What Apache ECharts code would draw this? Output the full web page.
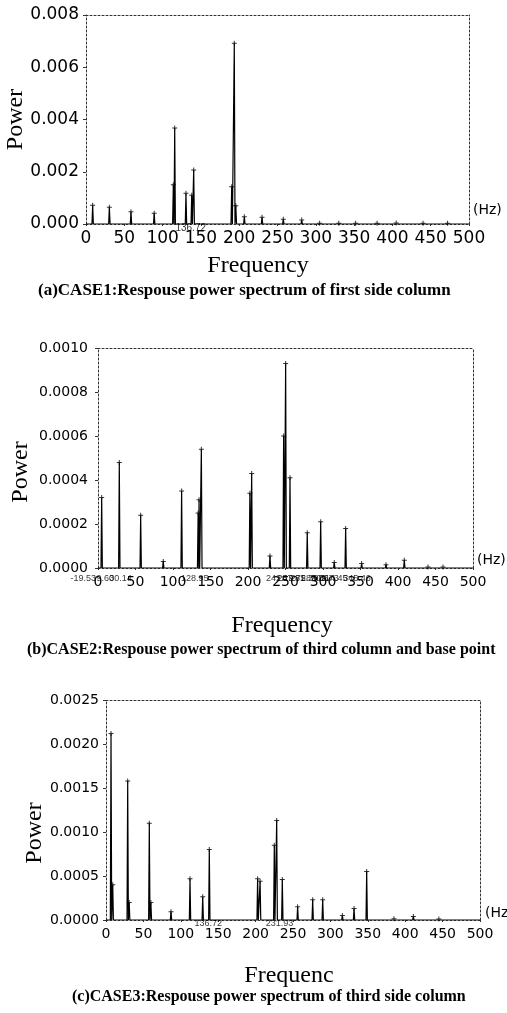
<!DOCTYPE html>
<html>
<head>
<meta charset="utf-8">
<script src="https://cdn.jsdelivr.net/npm/echarts@6/dist/echarts.min.js"></script>
<style>html,body{margin:0;padding:0;background:#fff}#c{width:507px;height:1013px}</style>
</head>
<body>
<div id="c"></div>
<script>
// ---------- DATA ----------
const xTickLabels = ['0','50','100','150','200','250','300','350','400','450','500'];

// Panel (a) CASE1 peaks
const aPeakFreq  = [8.7, 30.5, 58.7, 89, 114, 115.8, 130.5, 138, 140.6, 190.2, 193.6, 195.6, 206.7, 229.8, 257.6, 281.6, 305, 330, 352, 380, 405, 440, 472];
const aPeakPower = [0.00072, 0.00064, 0.00047, 0.00041, 0.0015, 0.00367, 0.00118, 0.0011, 0.00207, 0.00143, 0.00692, 0.0007, 0.00028, 0.00026, 0.00018, 0.00015, 0.00003, 0.00003, 0.00003, 0.00003, 0.00004, 0.00003, 0.00003];
const aNoteFreq = [136.72];
const aNoteText = ['136.72'];

// Panel (b) CASE2 peaks
const bPeakFreq  = [4.9, 28.4, 56.9, 87, 111.5, 133.5, 134.7, 137.8, 202.5, 204.9, 229.3, 247.5, 250.2, 256, 279, 296.9, 315, 330.2, 351.5, 384, 408.4, 440, 460];
const bPeakPower = [0.00032, 0.00048, 0.00024, 0.00003, 0.00035, 0.00025, 0.00031, 0.00054, 0.00034, 0.00043, 0.000055, 0.0006, 0.00093, 0.00041, 0.00016, 0.00021, 0.000025, 0.00018, 0.00002, 0.000015, 0.000035, 0.000005, 0.000005];
const bNoteFreq = [-19.53, 9.60, 30.14, 128.95, 242.19, 257.81, 275.39, 289.06, 302.73, 314.45, 345.46];
const bNoteText = ['-19.53', '9.60', '30.14', '128.95', '242.19', '257.81', '275.39', '289.06', '302.73', '314.45', '345.46'];

// Panel (c) CASE3 peaks
const cPeakFreq  = [6.7, 9, 29, 31, 57.9, 60, 86.9, 112.3, 129.3, 138.1, 202.7, 206, 225, 228.2, 235.7, 256.2, 276.3, 289.7, 316, 331.6, 348.5, 385, 410.9, 445];
const cPeakPower = [0.00212, 0.0004, 0.00158, 0.0002, 0.0011, 0.0002, 0.000095, 0.00047, 0.000265, 0.0008, 0.00047, 0.00044, 0.00085, 0.00113, 0.00046, 0.00015, 0.00023, 0.00023, 0.00005, 0.00013, 0.00055, 0.000015, 0.00004, 0.00001];
const cNoteFreq = [136.72, 231.93];
const cNoteText = ['136.72', '231.93'];

const aYMax = 0.008, aYStep = 0.002;
const bYMax = 0.0010, bYStep = 0.0002;
const cYMax = 0.0025, cYStep = 0.0005;

const captions = [
  '(a)CASE1:Respouse power spectrum of first side column',
  '(b)CASE2:Respouse power spectrum of third column and base point',
  '(c)CASE3:Respouse power spectrum of third side column'
];
const xNames = ['Frequency', 'Frequency', 'Frequenc'];
const yName = 'Power';

// ---------- BUILD ----------
function trace(freqs, powers, halfWidth) {
  const d = [[0, 0]];
  freqs.forEach((f, i) => {
    d.push([f - halfWidth, 0], [f, powers[i]], [f + halfWidth, 0]);
  });
  d.push([500, 0]);
  return d;
}
function pairs(freqs, powers) { return freqs.map((f, i) => [f, powers[i]]); }

const panels = [
  {grid:{left:86, top:15, width:383, height:209}, max:aYMax, step:aYStep, dec:3,
   f:aPeakFreq, p:aPeakPower, nf:aNoteFreq, nt:aNoteText, fs:17, lm:7, xm:6, nfs:10,
   ygap:58, ypad:[0,0,0,0], xgap:30, xpad:[0,39,0,0], noteDy:-1,
   hz:{x:473, y:203}},
  {grid:{left:98, top:348, width:375, height:220}, max:bYMax, step:bYStep, dec:4,
   f:bPeakFreq, p:bPeakPower, nf:bNoteFreq, nt:bNoteText, fs:14, lm:10, xm:7, nfs:9,
   ygap:65, ypad:[0,28,0,0], xgap:46, xpad:[0,7,0,0], noteDy:6,
   hz:{x:477, y:553}},
  {grid:{left:106, top:700, width:374, height:220}, max:cYMax, step:cYStep, dec:4,
   f:cPeakFreq, p:cPeakPower, nf:cNoteFreq, nt:cNoteText, fs:14, lm:7, xm:7, nfs:9,
   ygap:59, ypad:[0,46,0,0], xgap:44, xpad:[0,8,0,0], noteDy:-1,
   hz:{x:485, y:906}}
];

const dotted = {color:'#333', width:1, type:[2,2]};
const tickFont = 'DejaVu Sans';
const serif = '"Liberation Serif", "Times New Roman", serif';

const option = {animation:false, backgroundColor:'#fff', grid:[], xAxis:[], yAxis:[], series:[], graphic:[], title:[]};

panels.forEach((P, i) => {
  option.grid.push(Object.assign({containLabel:false, outerBoundsMode:'none'}, P.grid));
  option.xAxis.push({
    type:'value', gridIndex:i, min:0, max:500, interval:50, position:'bottom',
    name:xNames[i], nameLocation:'middle', nameGap:P.xgap, nameMoveOverlap:false,
    nameTextStyle:{fontFamily:serif, fontSize:24, color:'#000', padding:P.xpad},
    axisLine:{onZero:false, lineStyle:dotted}, axisTick:{show:true, length:3, lineStyle:dotted},
    splitLine:{show:false},
    axisLabel:{fontFamily:tickFont, fontSize:P.fs, color:'#000', margin:P.xm,
      formatter:(v) => xTickLabels[Math.round(v / 50)]}
  });
  option.xAxis.push({
    type:'value', gridIndex:i, min:0, max:500, position:'top',
    axisLine:{show:true, onZero:false, lineStyle:dotted}, axisTick:{show:false}, axisLabel:{show:false}, splitLine:{show:false}
  });
  option.yAxis.push({
    type:'value', gridIndex:i, min:0, max:P.max, interval:P.step, position:'left',
    name:yName, nameLocation:'middle', nameGap:P.ygap, nameRotate:90, nameMoveOverlap:false,
    nameTextStyle:{fontFamily:serif, fontSize:24, color:'#000', padding:P.ypad},
    axisLine:{show:true, onZero:false, lineStyle:dotted}, axisTick:{show:true, length:3, lineStyle:{color:'#333'}},
    splitLine:{show:false},
    axisLabel:{fontFamily:tickFont, fontSize:P.fs, color:'#000', margin:P.lm,
      formatter:(v) => v.toFixed(P.dec)}
  });
  option.yAxis.push({
    type:'value', gridIndex:i, min:0, max:P.max, position:'right',
    axisLine:{show:true, onZero:false, lineStyle:dotted}, axisTick:{show:false}, axisLabel:{show:false}, splitLine:{show:false}
  });
  option.series.push({
    type:'line', xAxisIndex:2*i, yAxisIndex:2*i, data:trace(P.f, P.p, 0.9),
    showSymbol:false, symbol:'none', lineStyle:{color:'#000', width:1.2}, clip:true
  });
  option.series.push({
    type:'scatter', xAxisIndex:2*i, yAxisIndex:2*i, data:pairs(P.f, P.p),
    symbol:'path://M4,0H6V10H4Z M0,4H10V6H0Z', symbolSize:5,
    itemStyle:{color:'#000'}
  });
  option.series.push({
    type:'scatter', xAxisIndex:2*i, yAxisIndex:2*i, clip:false,
    data:P.nf.map((f, k) => ({value:[f, 0], name:P.nt[k]})),
    symbolSize:0,
    label:{show:true, position:'bottom', distance:P.noteDy, formatter:(d) => d.name,
      fontFamily:'Liberation Sans', fontSize:P.nfs, color:'#000'}
  });
  option.graphic.push({type:'text', left:P.hz.x, top:P.hz.y,
    style:{text:'(Hz)', font:'14px "DejaVu Sans"', fill:'#000'}});
});

const capPos = [{left:38, top:282, fs:17}, {left:27, top:642, fs:16}, {left:72, top:989, fs:16}];
captions.forEach((t, i) => {
  option.title.push({text:t, left:capPos[i].left, top:capPos[i].top, padding:0,
    textStyle:{fontFamily:serif, fontWeight:'bold', fontSize:capPos[i].fs, color:'#000'}});
});

const chart = echarts.init(document.getElementById('c'), null, {renderer:'canvas'});
chart.setOption(option);
</script>
</body>
</html>
